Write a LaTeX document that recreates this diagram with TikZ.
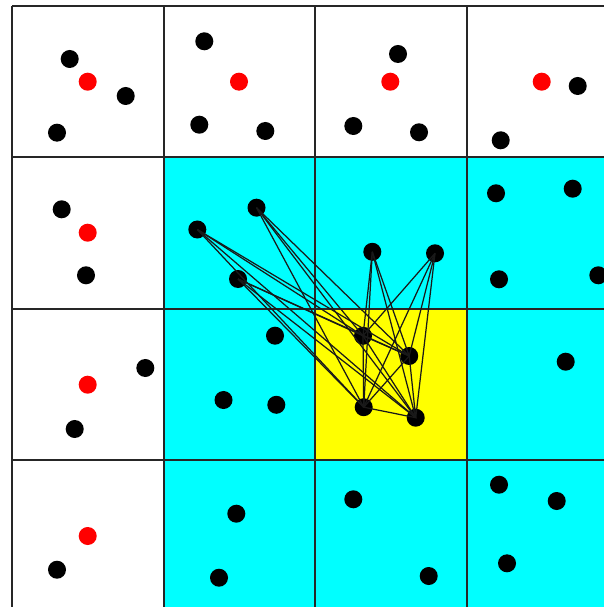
\documentclass[tikz,border=0pt]{standalone}
\usetikzlibrary{positioning}
\definecolor{nbcyan}{RGB}{0,255,255}
\definecolor{homeyellow}{RGB}{255,255,0}
\definecolor{refred}{RGB}{255,0,0}
\tikzset{
  gridline/.style={draw=black!85, line width=0.5pt},
  dot/.style={circle, fill=black, inner sep=0pt, minimum size=1.8mm},
  refdot/.style={dot, fill=refred},
  link/.style={draw=black!90, line width=0.35pt}
}

\begin{document}
\begin{tikzpicture}[x=0.01cm, y=-0.01cm]
  \clip (0,0) rectangle (604,607);
  \fill[white] (0,0) rectangle (604,607);

  % neighbour cells and home cell
  \fill[nbcyan] (163.9,157.3) rectangle (604,607);
  \fill[homeyellow] (315.1,309) rectangle (467.1,459.9);

  \foreach \x in {12.3,163.9,315.1,467.1}
    \draw[gridline] (\x,6) -- (\x,607);
  \foreach \y in {6,157.3,309,459.9}
    \draw[gridline] (12.3,\y) -- (604,\y);

  % top row
  \node[dot] (c00a) at (69.7,59) {};
  \node[dot] (c00b) at (125.7,96) {};
  \node[dot] (c00c) at (57,132.7) {};
  \node[refdot] (c00r) at (87.7,81.7) {};
  \node[dot] (c10a) at (204.3,41.3) {};
  \node[dot] (c10b) at (199.3,124.7) {};
  \node[dot] (c10c) at (265.3,131) {};
  \node[refdot] (c10r) at (239,81.7) {};
  \node[dot] (c20a) at (398,54) {};
  \node[dot] (c20b) at (353.3,126) {};
  \node[dot] (c20c) at (419,132.3) {};
  \node[refdot] (c20r) at (390.3,81.7) {};
  \node[dot] (c30a) at (577.7,86) {};
  \node[dot] (c30b) at (500.7,140.3) {};
  \node[refdot] (c30r) at (541.7,81.7) {};

  % left column
  \node[dot] (c01a) at (61.7,209.3) {};
  \node[dot] (c01b) at (86,275.3) {};
  \node[refdot] (c01r) at (87.7,232.7) {};
  \node[dot] (c02a) at (145.3,368) {};
  \node[dot] (c02b) at (74.7,429) {};
  \node[refdot] (c02r) at (87.7,384.7) {};
  \node[dot] (c03a) at (57,569.7) {};
  \node[refdot] (c03r) at (87.7,536) {};

  % neighbours
  \node[dot] (nbA) at (197.3,229.5) {};
  \node[dot] (nbB) at (256.5,207.7) {};
  \node[dot] (nbC) at (238,279) {};
  \node[dot] (nbD) at (372.3,251.8) {};
  \node[dot] (nbE) at (435,253.3) {};
  \node[dot] (c31a) at (496,193.3) {};
  \node[dot] (c31b) at (572.7,188.7) {};
  \node[dot] (c31c) at (499,279.3) {};
  \node[dot] (c31d) at (598.3,275.3) {};
  \node[dot] (c12a) at (275,335.7) {};
  \node[dot] (c12b) at (223.5,400) {};
  \node[dot] (c12c) at (276.3,404.8) {};
  \node[dot] (c32a) at (565.7,361.7) {};
  \node[dot] (c13a) at (236.3,513.7) {};
  \node[dot] (c13b) at (219,577.7) {};
  \node[dot] (c23a) at (353.3,499.3) {};
  \node[dot] (c23b) at (428.7,576) {};
  \node[dot] (c33a) at (499,484.7) {};
  \node[dot] (c33b) at (556.7,501) {};
  \node[dot] (c33c) at (507,563.3) {};

  % home cell
  \node[dot] (h1) at (363,335.8) {};
  \node[dot] (h2) at (409.2,356) {};
  \node[dot] (h3) at (363.7,407.2) {};
  \node[dot] (h4) at (415.7,417.7) {};

  \foreach \h in {1,...,4}
    \foreach \n in {nbA,nbB,nbC,nbD,nbE}
      \draw[link] (h\h.center) -- (\n.center);
  \draw[link] (h1.center) -- (h2.center) -- (h3.center) -- (h4.center) -- (h1.center);
  \draw[link] (h1.center) -- (h3.center);
  \draw[link] (h2.center) -- (h4.center);
\end{tikzpicture}
\end{document}
